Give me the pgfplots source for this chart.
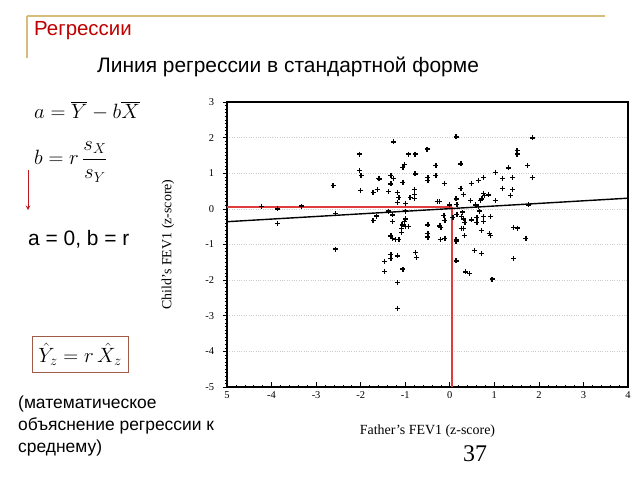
\documentclass[border=0pt]{standalone}
\usepackage{fontspec}
\setmainfont{Liberation Sans}
\newfontfamily\serif{Liberation Serif}
\usepackage{pgfplots}
\pgfplotsset{compat=1.18}
\definecolor{titlered}{HTML}{C00000}
\definecolor{gold}{HTML}{D6BE7A}
\definecolor{boxbrown}{HTML}{A05A48}
\definecolor{redline}{HTML}{E03C3C}
\definecolor{arrowred}{HTML}{C0141E}

\pgfplotstableread{
x y
-4.23 0.06
-3.86 0.00
-3.86 -0.41
-3.33 0.08
-2.62 0.65
-2.56 -0.13
-2.56 -1.13
-2.02 1.54
-2.02 1.07
-1.99 0.94
-2.00 0.51
-1.72 0.46
-1.63 0.55
-1.59 0.86
-1.57 0.84
-1.38 0.48
-1.32 0.94
-1.26 0.86
-1.32 0.70
-1.26 1.88
-1.18 0.46
-1.14 0.32
-1.18 0.18
-1.05 0.74
-1.02 1.24
-1.05 1.16
-0.99 0.16
-0.93 1.54
-0.78 1.54
-0.78 0.98
-0.89 0.32
-0.79 0.54
-0.79 0.41
-0.79 0.29
-0.51 1.68
-0.49 0.88
-0.49 0.80
-0.31 1.21
-0.31 0.94
-0.12 0.72
-0.27 0.21
-0.23 0.21
0.00 0.11
-1.64 -0.20
-1.72 -0.33
-1.37 -0.06
-1.28 -0.17
-1.28 -0.36
-1.00 -0.06
-0.99 -0.28
-1.02 -0.36
-1.07 -0.45
-0.99 -0.50
-0.92 -0.50
-1.08 -0.56
-1.08 -0.66
-1.32 -0.76
-1.29 -0.83
-1.22 -0.86
-1.14 -0.86
-0.49 -0.45
-0.49 -0.70
-0.49 -0.79
-0.22 -0.48
-0.20 -0.52
-0.11 -0.33
-0.13 -0.18
-0.11 -0.83
-0.21 -0.85
-0.77 -1.23
-0.75 -1.37
-1.32 -1.28
-1.32 -1.40
-1.18 -1.32
-1.46 -1.48
-1.46 -1.75
-1.05 -1.69
-1.17 -2.07
-1.17 -2.80
0.14 2.02
1.85 1.99
1.51 1.63
1.51 1.54
0.25 1.26
1.75 1.21
1.02 1.03
1.32 1.15
1.85 0.88
0.75 0.89
1.19 0.86
1.41 0.89
0.65 0.79
0.48 0.72
0.25 0.58
1.19 0.58
1.41 0.55
0.31 0.41
1.36 0.37
0.76 0.44
0.78 0.37
0.87 0.39
0.72 0.28
0.69 0.23
0.46 0.23
1.02 0.23
0.14 0.28
0.16 0.13
0.58 0.11
0.65 0.06
1.76 0.11
0.16 -0.15
0.07 -0.25
0.29 -0.09
0.26 -0.22
0.31 -0.28
0.34 -0.38
0.49 -0.31
0.61 -0.24
0.61 -0.38
0.76 -0.22
0.76 -0.36
0.91 -0.22
0.67 -0.06
0.26 -0.56
0.31 -0.56
0.33 -0.75
0.71 -0.61
0.89 -0.69
0.91 -0.74
0.14 -0.87
0.14 -0.92
1.43 -0.52
1.52 -0.54
1.71 -0.83
0.55 -1.17
0.71 -1.25
1.43 -1.39
0.14 -1.46
0.35 -1.77
0.45 -1.81
0.95 -1.97
}\pts

\begin{document}
\begin{tikzpicture}
\useasboundingbox (0,0) rectangle (640bp,-480bp);
\fill[white] (0,0) rectangle (640bp,-480bp);
% slide decorations
\draw[gold, line width=1.5bp] (27bp,-16bp) -- (605bp,-16bp);
\draw[gold, line width=1.5bp] (27bp,-16bp) -- (27bp,-58bp);
\node[anchor=west, text=titlered, font=\fontsize{20.5}{22}\selectfont, inner sep=0pt] at (34bp,-31bp) {Регрессии};
\node[font=\fontsize{21}{23}\selectfont, inner sep=0pt] at (288bp,-67bp) {Линия регрессии в стандартной форме};
% formulas
\node[anchor=west, inner sep=0pt, font=\fontsize{22}{24}\selectfont] at (34bp,-111bp) {$a=\overline{Y}-b\overline{X}$};
\node[anchor=west, inner sep=0pt, font=\fontsize{22}{24}\selectfont] at (34bp,-162bp) {$\displaystyle b=r\,\frac{s_X}{s_Y}$};
\draw[arrowred, line width=1bp, -stealth] (28bp,-170bp) -- (28bp,-210bp);
\node[anchor=west, inner sep=0pt, font=\fontsize{21}{23}\selectfont] at (28bp,-239bp) {a = 0, b = r};
\draw[boxbrown, line width=0.8bp] (32bp,-336bp) rectangle (128bp,-372bp);
\node[inner sep=0pt, font=\fontsize{20}{22}\selectfont] at (80bp,-354bp) {$\hat{Y}_z=r\,\hat{X}_z$};
\node[anchor=north west, inner sep=0pt, align=left, font=\fontsize{17.5}{22}\selectfont] at (18bp,-396bp) {(математическое\\объяснение регрессии к\\среднему)};
\node[inner sep=0pt, font=\serif\fontsize{24}{26}\selectfont] at (475bp,-454bp) {37};
% chart
\begin{axis}[
  at={(227bp,-102bp)}, anchor=north west,
  scale only axis, width=401bp, height=285bp,
  xmin=-5, xmax=4, ymin=-5, ymax=3,
  xtick={-5,-4,-3,-2,-1,0,1,2,3,4},
  xticklabels={5,-4,-3,-2,-1,0,1,2,3,4},
  ytick={-5,-4,-3,-2,-1,0,1,2,3},
  minor x tick num=4, minor y tick num=9,
  xtick pos=bottom, ytick pos=left,
  xtick align=inside, ytick align=outside,
  major tick length=4.5bp, minor tick length=2.2bp,
  tick style={black, line width=0.6bp},
  axis line style={black, line width=1.1bp},
  ymajorgrids, major grid style={gray!40, dotted, line width=0.6bp},
  /pgf/number format/assume math mode=true,
  tick label style={font=\serif\fontsize{10.5}{12}\selectfont},
  yticklabel style={xshift=-5bp},
  xticklabel style={yshift=-1bp},
  xlabel={Father’s FEV1 (z-score)},
  ylabel={Child’s FEV1 (z-score)},
  label style={font=\serif\fontsize{14}{16}\selectfont},
  xlabel style={yshift=-19bp},
  ylabel style={yshift=24bp},
  clip=true,
]
\addplot[color=redline, line width=1.4bp, forget plot] coordinates {(-5,0.05) (0.05,0.05)};
\addplot[color=redline, line width=1.4bp, forget plot] coordinates {(0.05,0.05) (0.05,-5)};
\addplot[color=black, line width=1.4bp] coordinates {(-5,-0.36) (4,0.30)};
\addplot[only marks, mark=+, mark size=2.5bp, mark options={line width=1.3bp, black}] table[x=x,y=y] {\pts};
\end{axis}
\end{tikzpicture}
\end{document}
